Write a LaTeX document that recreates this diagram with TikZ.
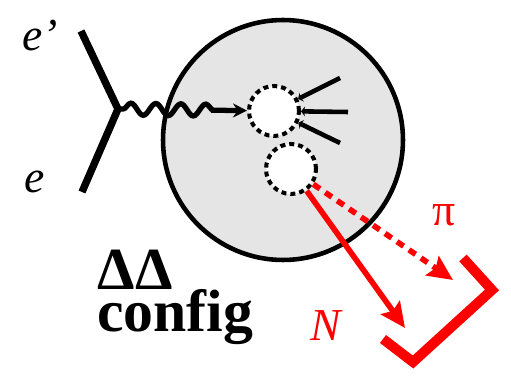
\documentclass[tikz,border=0pt]{standalone}
\usepackage{fontspec}
\setmainfont{Liberation Serif}
\usetikzlibrary{arrows.meta,positioning,decorations.pathmorphing}
\definecolor{blobgray}{gray}{0.9}

\begin{document}
\begin{tikzpicture}[x=0.02cm,y=-0.02cm,>={Stealth[length=0.5cm,width=0.46cm,inset=0.08cm]},
    blob/.style={circle,draw,line width=2.6pt,fill=blobgray,minimum size=4.8cm,inner sep=0pt},
    vtx/.style={circle,draw,fill=white,line width=2.3pt,dash pattern=on 0.1cm off 0.08cm,minimum size=1cm,inner sep=0pt},
    leg/.style={line width=4.2pt},
    photon/.style={line width=3pt,decorate,decoration={snake,amplitude=0.12cm,segment length=0.5cm,pre length=0.1cm,post length=0.55cm},-{Stealth[length=0.28cm,width=0.28cm]}},
    track/.style={line width=2.6pt,-{Stealth[length=0.08cm,width=0.2cm]}},
    hadron/.style={red,line width=3.2pt,->}]

  \useasboundingbox (0,0) rectangle (511,378);

  % labels
  \node[font=\fontsize{26}{30}\selectfont\itshape] (eplab) at (40,36) {e’};
  \node[font=\fontsize{26}{30}\selectfont\itshape] (elab) at (35,182) {e};
  \node[font=\fontsize{34}{40}\selectfont\bfseries] (dd) at (135,270) {ΔΔ};
  \node[font=\fontsize{34}{40}\selectfont\bfseries] (config) at (175,317) {config};

  \node[blob] (blob) at (283,140) {};
  \node[vtx] (vtx1) at (274,111) {};
  \node[vtx] (vtx2) at (291,169) {};

  \coordinate (legtop) at (81,31);
  \coordinate (vertex) at (118,109);
  \coordinate (legbot) at (82,192);
  \coordinate (t1) at (340,78);
  \coordinate (t2) at (348,112);
  \coordinate (t3) at (340,143);
  \coordinate (ntip) at (405,328);
  \coordinate (pitip) at (453,280);

  \draw[leg] (legtop) -- (vertex) -- (legbot);
  \draw[photon] (vertex) -- (vtx1);
  \draw[track] (t1) -- (vtx1);
  \draw[track] (t2) -- (vtx1);
  \draw[track] (t3) -- (vtx1);

  \draw[hadron] (vtx2) -- (ntip);
  \draw[hadron,dash pattern=on 0.16cm off 0.13cm] (vtx2) -- (pitip);
  \draw[red,line width=5.7pt] (463,258) -- (492,290) -- (413,362) -- (383,339);

  \node[font=\fontsize{26}{30}\selectfont\itshape,red] (nlab) at (326,326) {N};
  \node[font=\fontsize{26}{30}\selectfont,red] (pilab) at (444,215) {π};
\end{tikzpicture}
\end{document}
